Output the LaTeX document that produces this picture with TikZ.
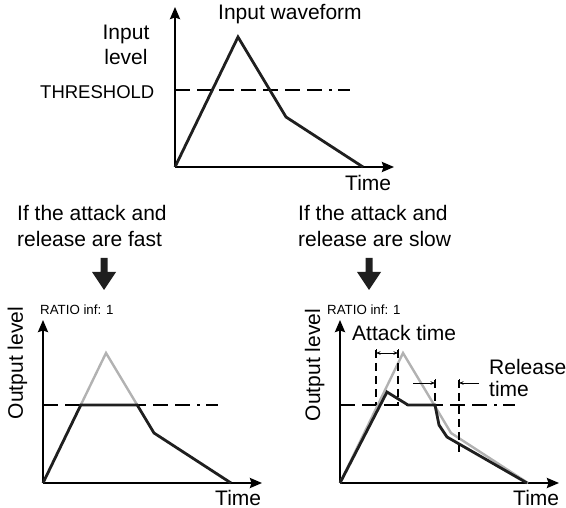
\documentclass[tikz,border=0pt]{standalone}
\usepackage{fontspec}
\setmainfont{Liberation Sans}
\usetikzlibrary{arrows.meta}
\begin{document}
\begin{tikzpicture}[x=1pt,y=-1pt,
  axis/.style={line width=2.2pt,-{Stealth[length=12pt,width=10pt,inset=1.5pt]}},
  wave/.style={line width=2.8pt,line join=miter,color=black!88},
  ghost/.style={line width=2.4pt,line join=miter,color=black!30},
  thresh/.style={line width=1.2pt,dash pattern=on 15pt off 7pt on 15pt off 7pt on 15pt off 7pt on 15pt off 7pt on 15pt off 7pt on 15pt off 7pt on 15pt off 7pt on 3pt off 6pt on 12pt off 40pt},
  vdash/.style={line width=1.1pt,dash pattern=on 8pt off 5pt},
  dim/.style={line width=0.9pt,-{Stealth[length=4.5pt,width=3.5pt]}},
  dimbar/.style={line width=0.9pt},
  big/.style={font=\fontsize{21}{25}\selectfont,inner sep=0pt,anchor=base west},
  mid/.style={font=\fontsize{18.5}{22}\selectfont,inner sep=0pt,anchor=base west},
  small/.style={font=\fontsize{13.3}{16}\selectfont,inner sep=0pt,anchor=base west},
  bigarrow/.style={fill=black!88}]
\useasboundingbox (0,0) rectangle (566,508);

% ---------- top chart ----------
\coordinate (O1) at (175,167);
\coordinate (Y1) at (175,7);
\coordinate (X1) at (394,167);
\draw[axis] (O1) -- (Y1);
\draw[axis] (O1) -- (X1);
\coordinate (T1a) at (175,90);
\coordinate (T1b) at (352,90);
\draw[thresh] (T1a) -- (T1b);
\draw[wave] (O1) -- ++(63,-130) -- ++(48,80) -- ++(77,50);
\node[big] (tin) at (218,19.5) {Input waveform};
\node[big,anchor=base] (il1) at (126,39.5) {Input};
\node[big,anchor=base] (il2) at (126,64.5) {level};
\node[mid] (thr) at (40,99) {THRESHOLD};
\node[big] (time1) at (345,190.5) {Time};

% ---------- captions ----------
\node[big] (fa1) at (17,221) {If the attack and};
\node[big] (fa2) at (17,247) {release are fast};
\node[big] (sl1) at (298,221) {If the attack and};
\node[big] (sl2) at (298,247) {release are slow};

\fill[bigarrow] (100.5,258) -- (107.5,258) -- (107.5,272) -- (116,272) -- (104,290) -- (92,272) -- (100.5,272) -- cycle;
\fill[bigarrow] (365.5,258) -- (372.5,258) -- (372.5,272) -- (381,272) -- (369,290) -- (357,272) -- (365.5,272) -- cycle;

% ---------- bottom left chart ----------
\coordinate (O2) at (43,483);
\coordinate (Y2) at (43,320);
\coordinate (X2) at (262,483);
\draw[axis] (O2) -- (Y2);
\draw[axis] (O2) -- (X2);
\coordinate (T2a) at (43,405);
\coordinate (T2b) at (220,405);
\draw[thresh] (T2a) -- (T2b);
\draw[ghost] (80.8,405) -- (106,353) -- (137.2,405);
\draw[wave] (O2) -- ++(37.8,-78) -- ++(56.4,0) -- ++(16.8,28) -- ++(77,50);
\node[small] (r1) at (40,315) {RATIO inf: 1};
\node[big,rotate=90,anchor=base] (ol1) at (23,363) {Output level};
\node[big] (time2) at (215,505) {Time};

% ---------- bottom right chart ----------
\coordinate (O3) at (340,483);
\coordinate (Y3) at (340,320);
\coordinate (X3) at (559,483);
\draw[axis] (O3) -- (Y3);
\draw[axis] (O3) -- (X3);
\coordinate (T3a) at (340,405);
\coordinate (T3b) at (515,405);
\draw[thresh] (T3a) -- (T3b);
\draw[ghost] (O3) -- ++(63,-130) -- ++(48,80) -- ++(77,50);
\draw[wave] (O3) -- (387,392) -- (408,405) -- (435,405) -- (439,425) -- (447,437) -- (527,483);
\node[small] (r2) at (327,315) {RATIO inf: 1};
\node[big,rotate=90,anchor=base] (ol2) at (320,365) {Output level};
\node[big] (time3) at (513,505) {Time};

% dashed markers
\coordinate (v1a) at (376,350); \coordinate (v1b) at (376,405);
\coordinate (v2a) at (398,350); \coordinate (v2b) at (398,405);
\coordinate (v3a) at (435,380); \coordinate (v3b) at (435,405);
\coordinate (v4a) at (459,380); \coordinate (v4b) at (459,452);
\draw[vdash] (v1a) -- (v1b);
\draw[vdash] (v2a) -- (v2b);
\draw[vdash] (v3a) -- (v3b);
\draw[vdash] (v4a) -- (v4b);

% attack time dimension
\coordinate (a1) at (376,353);
\coordinate (a2) at (398,353);
\draw[dimbar] (376,349.5) -- (376,356.5);
\draw[dimbar] (398,349.5) -- (398,356.5);
\draw[dim,{Stealth[length=4.5pt,width=3.5pt]}-{Stealth[length=4.5pt,width=3.5pt]}] (a1) -- (a2);

% release time dimensions
\coordinate (b1) at (413,383);
\coordinate (b2) at (435,383);
\draw[dimbar] (435,379.5) -- (435,386.5);
\draw[dim] (b1) -- (b2);
\coordinate (c1) at (479,383);
\coordinate (c2) at (459,383);
\draw[dimbar] (459,379.5) -- (459,386.5);
\draw[dim] (c1) -- (c2);

\node[big] (att) at (352,340.5) {Attack time};
\node[big] (rel1) at (489,374) {Release};
\node[big] (rel2) at (489,397) {time};
\end{tikzpicture}
\end{document}
